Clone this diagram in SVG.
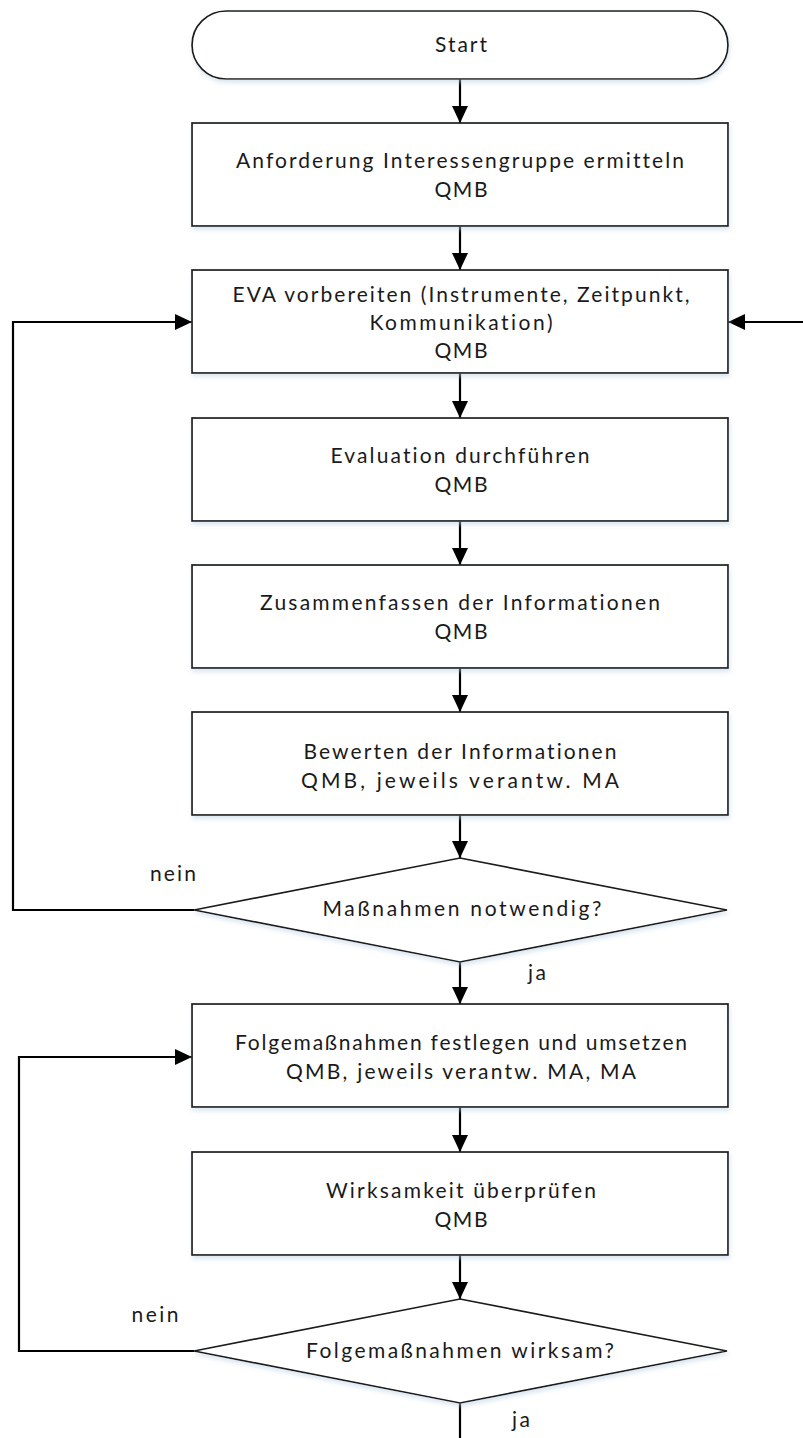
<svg xmlns="http://www.w3.org/2000/svg" width="803" height="1438" viewBox="0 0 803 1438">
<style>
.shape{fill:#ffffff;stroke:#1a1a1a;stroke-width:1.7;filter:url(#sh)}
.t{font-family:Lato,"Open Sans","Liberation Sans",sans-serif;font-size:21px;fill:#1a1a1a;text-anchor:middle;font-variant-ligatures:none;font-feature-settings:"liga" 0}
.lbl{font-family:Lato,"Open Sans","Liberation Sans",sans-serif;font-size:21px;fill:#1a1a1a;text-anchor:middle;font-variant-ligatures:none}
.c{fill:none;stroke:#000000;stroke-width:2.2}
</style>
<defs>
<filter id="sh" x="-5%" y="-10%" width="110%" height="125%">
<feDropShadow dx="1" dy="3" stdDeviation="2" flood-color="#b8cde0" flood-opacity="0.5"/>
</filter>
<marker id="ah" markerUnits="userSpaceOnUse" markerWidth="18" markerHeight="16" refX="17" refY="8" orient="auto">
<path d="M0,0 L17,8 L0,16 z" fill="#000000"/>
</marker>
</defs>
<rect width="803" height="1438" fill="#ffffff"/>
<g id="connectors">
<line class="c" x1="460" y1="79" x2="460" y2="123" marker-end="url(#ah)"/>
<line class="c" x1="460" y1="226" x2="460" y2="270" marker-end="url(#ah)"/>
<line class="c" x1="460" y1="373" x2="460" y2="418" marker-end="url(#ah)"/>
<line class="c" x1="460" y1="521" x2="460" y2="565" marker-end="url(#ah)"/>
<line class="c" x1="460" y1="668" x2="460" y2="712" marker-end="url(#ah)"/>
<line class="c" x1="460" y1="815" x2="460" y2="858" marker-end="url(#ah)"/>
<line class="c" x1="460" y1="962" x2="460" y2="1004" marker-end="url(#ah)"/>
<line class="c" x1="460" y1="1107" x2="460" y2="1152" marker-end="url(#ah)"/>
<line class="c" x1="460" y1="1255" x2="460" y2="1299" marker-end="url(#ah)"/>
<line class="c" x1="460" y1="1403" x2="460" y2="1438"/>
<polyline class="c" points="194,910 13,910 13,322 192,322" marker-end="url(#ah)"/>
<line class="c" x1="803" y1="322" x2="728" y2="322" marker-end="url(#ah)"/>
<polyline class="c" points="194,1351 19,1351 19,1057 192,1057" marker-end="url(#ah)"/>
<text class="lbl" x="173" y="881" textLength="46" lengthAdjust="spacing">nein</text>
<text class="lbl" x="537" y="980" textLength="18" lengthAdjust="spacing">ja</text>
<text class="lbl" x="155" y="1322" textLength="47" lengthAdjust="spacing">nein</text>
<text class="lbl" x="521" y="1427" textLength="18" lengthAdjust="spacing">ja</text>
</g>
<g id="start">
<rect class="shape" x="192" y="11" width="536" height="68" rx="34" ry="34"/>
<text class="t" x="461" y="52" textLength="52" lengthAdjust="spacing">Start</text>
</g>
<g id="box1">
<rect class="shape" x="192" y="123" width="536" height="103"/>
<text class="t" x="460" y="168" textLength="448" lengthAdjust="spacing">Anforderung Interessengruppe ermitteln</text>
<text class="t" x="461" y="197" textLength="53" lengthAdjust="spacing">QMB</text>
</g>
<g id="box2">
<rect class="shape" x="192" y="270" width="536" height="103"/>
<text class="t" x="461" y="302" textLength="457" lengthAdjust="spacing">EVA vorbereiten (Instrumente, Zeitpunkt,</text>
<text class="t" x="461" y="330" textLength="183" lengthAdjust="spacing">Kommunikation)</text>
<text class="t" x="461" y="358" textLength="53" lengthAdjust="spacing">QMB</text>
</g>
<g id="box3">
<rect class="shape" x="192" y="418" width="536" height="103"/>
<text class="t" x="460" y="463" textLength="259" lengthAdjust="spacing">Evaluation durchführen</text>
<text class="t" x="461" y="492" textLength="53" lengthAdjust="spacing">QMB</text>
</g>
<g id="box4">
<rect class="shape" x="192" y="565" width="536" height="103"/>
<text class="t" x="460" y="610" textLength="400" lengthAdjust="spacing">Zusammenfassen der Informationen</text>
<text class="t" x="461" y="639" textLength="53" lengthAdjust="spacing">QMB</text>
</g>
<g id="box5">
<rect class="shape" x="192" y="712" width="536" height="103"/>
<text class="t" x="460" y="759" textLength="313" lengthAdjust="spacing">Bewerten der Informationen</text>
<text class="t" x="460" y="788" textLength="318" lengthAdjust="spacing">QMB, jeweils verantw. MA</text>
</g>
<g id="decision1">
<polygon class="shape" points="460,858 727,910 460,962 194,910"/>
<text class="t" x="462" y="916" textLength="279" lengthAdjust="spacing">Maßnahmen notwendig?</text>
</g>
<g id="box6">
<rect class="shape" x="192" y="1004" width="536" height="103"/>
<text class="t" x="461" y="1050" textLength="452" lengthAdjust="spacing">Folgemaßnahmen festlegen und umsetzen</text>
<text class="t" x="461" y="1079" textLength="350" lengthAdjust="spacing">QMB, jeweils verantw. MA, MA</text>
</g>
<g id="box7">
<rect class="shape" x="192" y="1152" width="536" height="103"/>
<text class="t" x="461" y="1198" textLength="270" lengthAdjust="spacing">Wirksamkeit überprüfen</text>
<text class="t" x="461" y="1227" textLength="53" lengthAdjust="spacing">QMB</text>
</g>
<g id="decision2">
<polygon class="shape" points="460,1299 727,1351 460,1403 194,1351"/>
<text class="t" x="460" y="1358" textLength="308" lengthAdjust="spacing">Folgemaßnahmen wirksam?</text>
</g>
</svg>
